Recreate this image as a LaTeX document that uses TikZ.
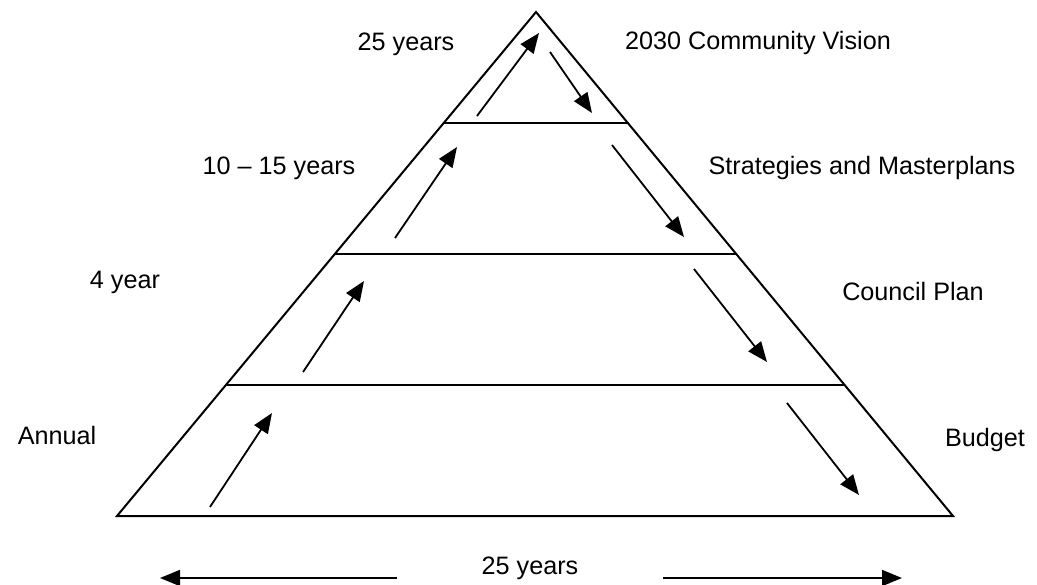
\documentclass[tikz,border=0pt]{standalone}
\usepackage{fontspec}
\setmainfont{Liberation Sans}
\usetikzlibrary{arrows.meta}
\begin{document}
\begin{tikzpicture}[x=1pt,y=-1pt,
  lbl/.style={inner sep=0pt,font=\fontsize{25.2}{30}\selectfont},
  edge/.style={line width=2pt,line join=miter},
  flow/.style={line width=1.8pt,-{Triangle[length=20pt,width=16pt]}}]
\useasboundingbox (0,0) rectangle (1037,585);
% triangle
\coordinate (apex) at (536,12);
\coordinate (bl) at (117,516);
\coordinate (br) at (953,516);
\draw[edge] (apex) -- (bl) -- (br) -- cycle;
% band lines
\coordinate (l1) at (443,123); \coordinate (r1) at (629,123);
\coordinate (l2) at (335,254); \coordinate (r2) at (736,254);
\coordinate (l3) at (227,385); \coordinate (r3) at (845,385);
\draw[edge] (l1) -- (r1);
\draw[edge] (l2) -- (r2);
\draw[edge] (l3) -- (r3);
% up arrows
\coordinate (u1s) at (210,507); \coordinate (u1e) at (272,413);
\coordinate (u2s) at (303,372); \coordinate (u2e) at (364,281);
\coordinate (u3s) at (395,238); \coordinate (u3e) at (457,147);
\coordinate (u4s) at (477,116); \coordinate (u4e) at (539,33);
\draw[flow] (u1s) -- (u1e);
\draw[flow] (u2s) -- (u2e);
\draw[flow] (u3s) -- (u3e);
\draw[flow] (u4s) -- (u4e);
% down arrows
\coordinate (d1s) at (550,52); \coordinate (d1e) at (592,113);
\coordinate (d2s) at (612,145); \coordinate (d2e) at (684,237);
\coordinate (d3s) at (694,269); \coordinate (d3e) at (767,362);
\coordinate (d4s) at (787,403); \coordinate (d4e) at (859,495);
\draw[flow] (d1s) -- (d1e);
\draw[flow] (d2s) -- (d2e);
\draw[flow] (d3s) -- (d3e);
\draw[flow] (d4s) -- (d4e);
% labels
\node[lbl] (t25) at (406,44) {25 years};
\node[lbl] (vision) at (758,43) {2030 Community Vision};
\node[lbl] (t1015) at (279,168) {10 -- 15 years};
\node[lbl] (strat) at (862,168) {Strategies and Masterplans};
\node[lbl] (t4) at (125,282) {4 year};
\node[lbl] (council) at (913,291) {Council Plan};
\node[lbl] (annual) at (57,435) {Annual};
\node[lbl] (budget) at (985,440) {Budget};
\node[lbl] (bottom) at (530,568) {25 years};
% bottom arrows
\coordinate (bla) at (397,578); \coordinate (blb) at (160,578);
\coordinate (bra) at (663,578); \coordinate (brb) at (902,578);
\draw[flow] (bla) -- (blb);
\draw[flow] (bra) -- (brb);
\end{tikzpicture}
\end{document}
